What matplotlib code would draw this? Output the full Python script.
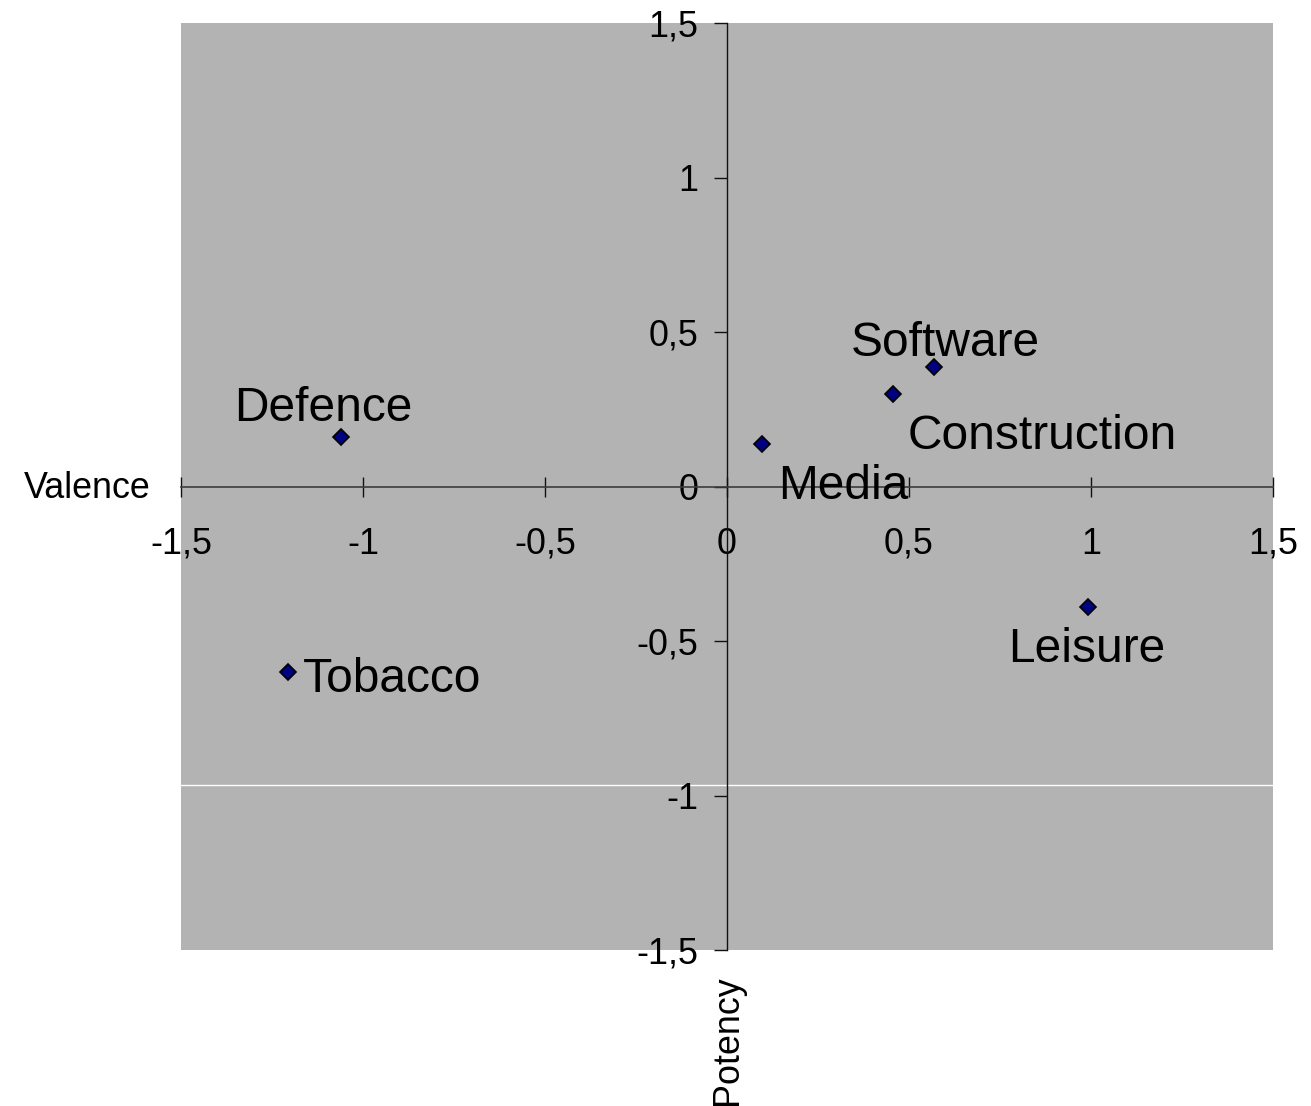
import matplotlib.pyplot as plt

plt.rcParams["font.family"] = ["Liberation Sans", "DejaVu Sans"]

# Sector positions on the valence / potency map
sectors = ["Defence", "Tobacco", "Media", "Construction", "Software", "Leisure"]
valence = [-1.061, -1.207, 0.096, 0.456, 0.569, 0.992]
potency = [0.159, -0.601, 0.137, 0.299, 0.386, -0.389]

# Label offsets from each marker (pixels)
label_offsets = [(-107, 16), (15, -20), (16, -55), (15, -55), (-83, 11), (-80, -55)]

x_ticks = [-1.5, -1.0, -0.5, 0.0, 0.5, 1.0, 1.5]
x_tick_labels = ["-1,5", "-1", "-0,5", "0", "0,5", "1", "1,5"]
y_ticks = [-1.5, -1.0, -0.5, 0.0, 0.5, 1.0, 1.5]
y_tick_labels = ["-1,5", "-1", "-0,5", "0", "0,5", "1", "1,5"]

fig = plt.figure(figsize=(13.11, 11.06), dpi=100)
ax = fig.add_axes([181 / 1311, 1 - 950 / 1106, 1092 / 1311, 927 / 1106])
ax.set_facecolor("#b3b3b3")
ax.set_xlim(-1.5, 1.5)
ax.set_ylim(-1.5, 1.5)

# axes cross at the origin
ax.spines["left"].set_position(("data", 0))
ax.spines["bottom"].set_position(("data", 0))
ax.spines["top"].set_visible(False)
ax.spines["right"].set_visible(False)
ax.spines["left"].set_color("#111111")
ax.spines["bottom"].set_color("#3c3c3c")
ax.spines["left"].set_linewidth(1)
ax.spines["bottom"].set_linewidth(1.2)

ax.set_xticks(x_ticks)
ax.set_xticklabels(x_tick_labels)
ax.set_yticks(y_ticks)
ax.set_yticklabels(y_tick_labels)
ax.tick_params(axis="x", direction="inout", length=15.1, width=1, pad=21.5,
               labelsize=25.8, color="#111111")
ax.tick_params(axis="y", direction="out", length=9.4, width=1, pad=11,
               labelsize=25.8, color="#111111")

ax.axhline(-0.965, color="white", linewidth=1, zorder=1)

ax.plot(valence, potency, linestyle="none", marker="D", markersize=8,
        markerfacecolor="#000080", markeredgecolor="black",
        markeredgewidth=1.2, zorder=5, clip_on=False)

for name, x, y, off in zip(sectors, valence, potency, label_offsets):
    ax.annotate(name, xy=(x, y), xytext=off, textcoords="offset pixels",
                ha="left", va="baseline", fontsize=34.5)

fig.text(151 / 1311, 1 - 489 / 1106, "Valence", ha="right", va="center",
         fontsize=25.8)
fig.text(728 / 1311, 1 - 1040 / 1106, "Potency", ha="center", va="center",
         rotation=90, fontsize=25.8)

fig.savefig("out.png", dpi=100)
